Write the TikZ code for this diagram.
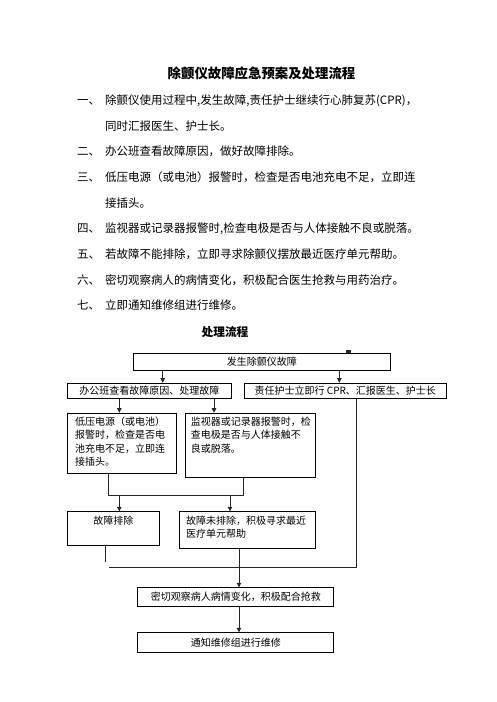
\documentclass[tikz,border=0pt]{standalone}
\usepackage{fontspec}
\setmainfont{Noto Sans CJK SC}
\usetikzlibrary{arrows.meta,calc}
\XeTeXlinebreaklocale "zh"
\XeTeXlinebreakskip=0pt plus 3pt
\begin{document}
\begin{tikzpicture}[x=1pt,y=-1pt,
  box/.style={draw=black, line width=0.9pt, inner sep=0pt, anchor=north west},
  btxt/.style={font=\fontsize{10}{13.3}\selectfont},
  ftxt/.style={inner sep=0pt, font=\fontsize{10}{13.3}\selectfont, align=left, anchor=base west},
  ltxt/.style={inner sep=0pt, anchor=west, font=\fontsize{11.5}{13}\selectfont, text height=10.1pt, text depth=1.4pt},
  conn/.style={line width=0.8pt, draw=black!85},
  arr/.style={conn, -{Triangle[length=4.5pt,width=4.5pt]}},
]
\fill[white] (0,0) rectangle (496,702);
\useasboundingbox (0,0) rectangle (496,702);

% title and list
\node[inner sep=0pt, font=\fontsize{13.4}{16}\selectfont\bfseries] (title) at (261.5,73) {除颤仪故障应急预案及处理流程};

\node[ltxt] (n1) at (77,100) {一、};
\node[ltxt] (l1) at (105,100) {\makebox[315pt][s]{除颤仪使用过程中,发生故障,责任护士继续行心肺复苏(CPR)，}};
\node[ltxt] (l1b) at (105,125.7) {同时汇报医生、护士长。};
\node[ltxt] (n2) at (77,151.4) {二、};
\node[ltxt] (l2) at (105,151.4) {办公班查看故障原因，做好故障排除。};
\node[ltxt] (n3) at (77,177) {三、};
\node[ltxt] (l3) at (105,177) {\makebox[315pt][s]{低压电源（或电池）报警时，检查是否电池充电不足，立即连}};
\node[ltxt] (l3b) at (105,202.8) {接插头。};
\node[ltxt] (n4) at (77,228.5) {四、};
\node[ltxt] (l4) at (105,228.5) {\makebox[315pt][s]{监视器或记录器报警时,检查电极是否与人体接触不良或脱落。}};
\node[ltxt] (n5) at (77,254) {五、};
\node[ltxt] (l5) at (105,254) {若故障不能排除，立即寻求除颤仪摆放最近医疗单元帮助。};
\node[ltxt] (n6) at (77,280) {六、};
\node[ltxt] (l6) at (105,280) {密切观察病人的病情变化，积极配合医生抢救与用药治疗。};
\node[ltxt] (n7) at (77,305.6) {七、};
\node[ltxt] (l7) at (105,305.6) {立即通知维修组进行维修。};

\node[inner sep=0pt, font=\fontsize{11.7}{14}\selectfont\bfseries] (sub) at (225,332) {处理流程};

% boxes
\node[box, btxt, minimum width=257.3pt, minimum height=17.3pt] (top) at (132.7,352.7) {发生除颤仪故障};
\node[box, btxt, minimum width=163.4pt, minimum height=15.6pt] (b2L) at (67.3,382.7) {办公班查看故障原因、处理故障};
\node[box, btxt, minimum width=201.7pt, minimum height=15.6pt] (b2R) at (244,382.7) {责任护士立即行 CPR、汇报医生、护士长};
\node[box, minimum width=108.7pt, minimum height=60.6pt] (b3a) at (67.3,412.7) {};
\node[box, minimum width=130pt, minimum height=64.6pt] (b3b) at (185.3,412.7) {};
\node[box, minimum width=91.4pt, minimum height=34pt] (b4a) at (67.3,511.3) {};
\node[box, minimum width=136.6pt, minimum height=37pt] (b4b) at (178.7,511.3) {};
\node[box, btxt, minimum width=196pt, minimum height=18.7pt] (b5) at (137.3,587.3) {密切观察病人病情变化，积极配合抢救};
\node[box, btxt, minimum width=196pt, minimum height=20pt] (b6) at (137.3,632.3) {通知维修组进行维修};

% box texts (base anchor = baseline of the last line)
\node[ftxt] (t3a) at ($(b3a.north west)+(7.7,52.7)$) {低压电源（或电池）\\报警时，检查是否电\\池充电不足，立即连\\接插头。};
\node[ftxt] (t3b) at ($(b3b.north west)+(5.4,39.3)$) {监视器或记录器报警时，检\\查电极是否与人体接触不\\良或脱落。};
\node[ftxt, anchor=base] (t4a) at ($(b4a.north)+(0,13.4)$) {故障排除};
\node[ftxt, font=\fontsize{10}{12.5}\selectfont] (t4b) at ($(b4b.north west)+(7.3,25.9)$) {故障未排除，积极寻求最近\\医疗单元帮助};

% small mark above top box
\fill[black!85] (346,349.8) rectangle (351.3,352.7);

% x positions of connectors
\coordinate (xA) at (162.7,0);
\coordinate (xB) at (339.3,0);
\coordinate (xC) at (119.3,0);
\coordinate (xD) at (214,0);
\coordinate (xG) at (230,0);
\coordinate (xJ) at (239,0);
\coordinate (j1) at (108.7,495.3);
\coordinate (j2) at (243.3,495.3);
\coordinate (k0) at (105.3,561.7);
\coordinate (k1) at (108.7,567.3);
\coordinate (k2) at (356.7,567.3);

% connectors
\draw[arr] (top.south -| xA) -- (b2L.north -| xA);
\draw[arr] (top.south -| xB) -- (b2R.north -| xB);
\draw[arr] (b2L.south -| xC) -- (b3a.north -| xC);
\draw[arr] (b2L.south -| xD) -- (b3b.north -| xD);
\draw[conn] (b3a.south -| j1) -- (j1) -- (j2) -- (b3b.south -| j2);
\draw[arr] (xC |- j1) -- (b4a.north -| xC);
\draw[arr] (xG |- j1) -- (b4b.north -| xG);
\draw[conn] (b4a.south -| k0) -- (k0);
\draw[conn] (b2R.south -| k2) -- (k2) -- (k1);
\draw[arr] (b4b.south -| xJ) -- (b5.north -| xJ);
\draw[arr] (b5.south -| xJ) -- (b6.north -| xJ);
\end{tikzpicture}
\end{document}
